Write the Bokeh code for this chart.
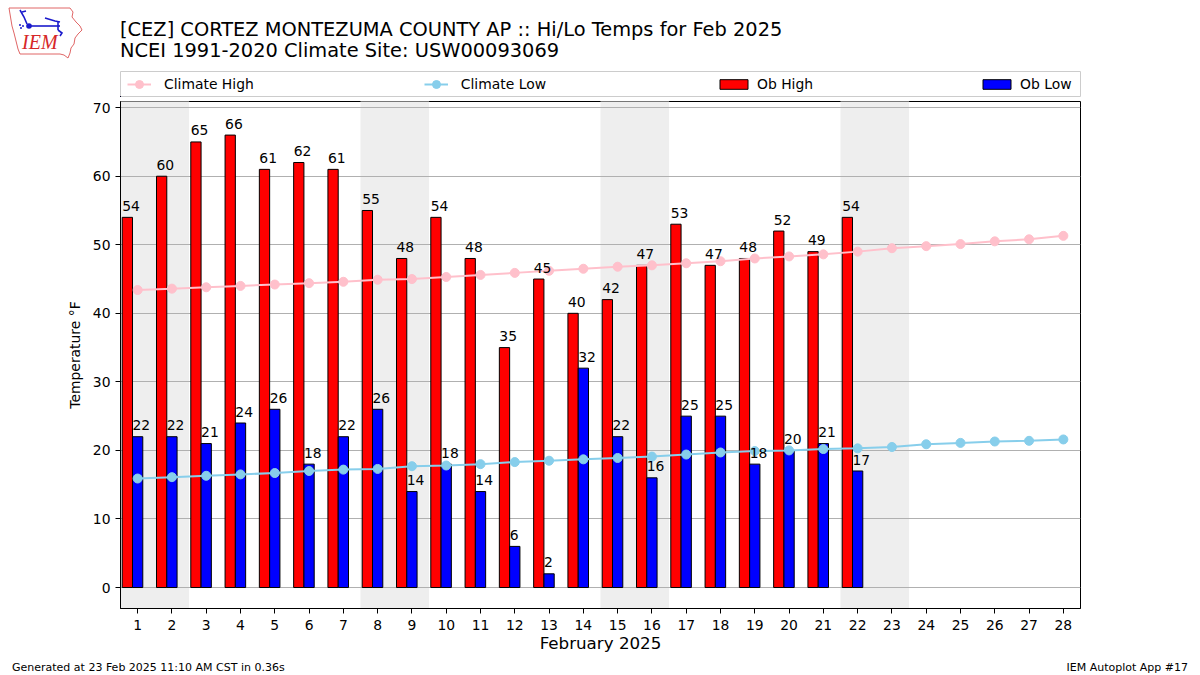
from bokeh.plotting import figure
from bokeh.models import (Range1d, FixedTicker, Legend, LegendItem, ColumnDataSource, Div)
from bokeh.layouts import column
from bokeh.transform import dodge
from bokeh.core.properties import value
from bokeh.embed import file_html
from bokeh.resources import INLINE

# ---------------- data ----------------
days = list(range(1, 29))
clim_high = [43.4, 43.6, 43.8, 44.0, 44.2, 44.4, 44.6, 44.9, 45.0, 45.3, 45.6, 45.9, 46.2, 46.5,
             46.8, 47.0, 47.3, 47.6, 48.0, 48.3, 48.6, 49.0, 49.5, 49.8, 50.1, 50.5, 50.8, 51.3]
clim_low = [15.9, 16.1, 16.3, 16.5, 16.7, 17.0, 17.2, 17.3, 17.7, 17.8, 18.0, 18.3, 18.5, 18.7,
            18.9, 19.1, 19.4, 19.7, 19.9, 20.0, 20.2, 20.3, 20.5, 20.9, 21.1, 21.3, 21.4, 21.6]
ob_days = list(range(1, 23))
ob_high = [54, 60, 65, 66, 61, 62, 61, 55, 48, 54, 48, 35, 45, 40, 42, 47, 53, 47, 48, 52, 49, 54]
ob_low = [22, 22, 21, 24, 26, 18, 22, 26, 14, 18, 14, 6, 2, 32, 22, 16, 25, 25, 18, 20, 21, 17]
weekend_start = [1, 8, 15, 22]
weekend_days = [2, 2, 2, 2]
y_ticks = [0, 10, 20, 30, 40, 50, 60, 70]

title1 = "[CEZ] CORTEZ MONTEZUMA COUNTY AP :: Hi/Lo Temps for Feb 2025"
title2 = "NCEI 1991-2020 Climate Site: USW00093069"
footer_left = "Generated at 23 Feb 2025 11:10 AM CST in 0.36s"
footer_right = "IEM Autoplot App #17"
logo_text = "IEM"

# ---------------- layout ----------------
FONT = "DejaVu Sans"
W = 1200
HEAD_H, LEG_H, FIG_H, FOOT_H = 66, 31, 563, 15
BL, BR, BT, BB = 120, 120, 4, 52
Y0, Y1 = -3.06, 70.9
LABEL_LIFT = 1.67   # data units between bar top and centre of its value label

p = figure(width=W, height=FIG_H, x_range=Range1d(0.5, 28.5), y_range=Range1d(Y0, Y1),
           output_backend="svg", toolbar_location=None, title=None, margin=0,
           min_border_left=BL, min_border_right=BR, min_border_top=BT, min_border_bottom=BB)
p.background_fill_color = "white"
p.border_fill_color = "white"
p.outline_line_color = "black"
p.outline_line_width = 1
p.outline_line_alpha = 1

# weekend shading
wk = ColumnDataSource(dict(
    left=[s - 0.5 for s in weekend_start],
    right=[s + n - 0.5 for s, n in zip(weekend_start, weekend_days)],
))
p.quad(left="left", right="right", bottom=Y0 - 10, top=Y1 + 10, source=wk,
       fill_color="#eeeeee", line_color=None, level="image")

src = ColumnDataSource(dict(day=ob_days, high=ob_high, low=ob_low,
                            high_s=[str(v) for v in ob_high], low_s=[str(v) for v in ob_low]))
csrc = ColumnDataSource(dict(day=days, ch=clim_high, cl=clim_low))

HIGH_BAR = dict(fill_color="red", line_color="black", line_width=1)
LOW_BAR = dict(fill_color="blue", line_color="black", line_width=1)
CH_LINE = dict(line_color="pink", line_width=2)
CH_DOT = dict(size=9, fill_color="pink", line_color="pink")
CL_LINE = dict(line_color="skyblue", line_width=2)
CL_DOT = dict(size=9, fill_color="skyblue", line_color="skyblue")

p.vbar(x=dodge("day", -0.3, range=p.x_range), top="high", bottom=0, width=0.3, source=src, **HIGH_BAR)
p.vbar(x="day", top="low", bottom=0, width=0.3, source=src, **LOW_BAR)
p.line("day", "ch", source=csrc, **CH_LINE)
p.scatter("day", "ch", source=csrc, **CH_DOT)
p.line("day", "cl", source=csrc, **CL_LINE)
p.scatter("day", "cl", source=csrc, **CL_DOT)

p.text(x=dodge("day", -0.45, range=p.x_range), y=dodge("high", LABEL_LIFT, range=p.y_range),
       text="high_s", source=src, text_align="left", text_baseline="middle",
       text_font=value(FONT), text_font_size="13.9px", text_color="black")
p.text(x=dodge("day", -0.15, range=p.x_range), y=dodge("low", LABEL_LIFT, range=p.y_range),
       text="low_s", source=src, text_align="left", text_baseline="middle",
       text_font=value(FONT), text_font_size="13.9px", text_color="black")

# axes / grid
p.xgrid.visible = False
p.ygrid.ticker = FixedTicker(ticks=y_ticks)
p.ygrid.grid_line_color = "#b0b0b0"
p.ygrid.grid_line_width = 1
p.xaxis.ticker = FixedTicker(ticks=days)
p.yaxis.ticker = FixedTicker(ticks=y_ticks)
for ax in (p.xaxis, p.yaxis):
    ax.axis_line_color = "black"
    ax.major_tick_line_color = "black"
    ax.major_tick_out = 5
    ax.major_tick_in = 0
    ax.minor_tick_line_color = None
    ax.major_label_text_font = FONT
    ax.major_label_text_font_size = "13.9px"
    ax.major_label_text_color = "black"
    ax.axis_label_text_font = FONT
    ax.axis_label_text_font_style = "normal"
    ax.axis_label_text_color = "black"
p.xaxis.major_label_standoff = 6
p.yaxis.major_label_standoff = 5
p.xaxis.axis_label = "February 2025"
p.xaxis.axis_label_text_font_size = "16.7px"
p.xaxis.axis_label_standoff = 0
p.yaxis.axis_label = "Temperature °F"
p.yaxis.axis_label_text_font_size = "13.9px"
p.yaxis.axis_label_standoff = 7

# ---------------- legend strip (its own small figure; frame = legend box) ----------------
lg = figure(width=W, height=LEG_H, x_range=Range1d(1000, 1001), y_range=Range1d(1000, 1001),
            output_backend="svg", toolbar_location=None, title=None, margin=0,
            x_axis_type=None, y_axis_type=None,
            min_border_left=120, min_border_right=120, min_border_top=5, min_border_bottom=1)
lg.outline_line_color = "#cccccc"
lg.outline_line_width = 1
lg.background_fill_color = "white"
lg.border_fill_color = "white"
r_chl = lg.line("day", "ch", source=csrc, **CH_LINE)
r_chd = lg.scatter("day", "ch", source=csrc, **CH_DOT)
r_cll = lg.line("day", "cl", source=csrc, **CL_LINE)
r_cld = lg.scatter("day", "cl", source=csrc, **CL_DOT)
r_hb = lg.vbar(x="day", top="high", bottom=0, width=0.3, source=src, **HIGH_BAR)
r_lb = lg.vbar(x="day", top="low", bottom=0, width=0.3, source=src, **LOW_BAR)

common = dict(orientation="horizontal", margin=0, padding=0,
              label_text_font=FONT, label_text_font_size="13.9px", label_text_color="black",
              border_line_color=None, background_fill_alpha=0)
leg_a = Legend(items=[LegendItem(label="Climate High", renderers=[r_chl, r_chd]),
                      LegendItem(label="Climate Low", renderers=[r_cll, r_cld])],
               location=(7, 2), spacing=170, glyph_width=24, glyph_height=20,
               label_standoff=13, label_height=20, **common)
leg_b = Legend(items=[LegendItem(label="Ob High", renderers=[r_hb]),
                      LegendItem(label="Ob Low", renderers=[r_lb])],
               location=(596, 4), spacing=166, glyph_width=35, glyph_height=12,
               label_standoff=6, label_height=16, **common)
lg.add_layout(leg_a, "center")
lg.add_layout(leg_b, "center")

# header (logo + two-line title) and footer as HTML text
logo_svg = (
    '<svg style="position:absolute;left:0px;top:0px;" width="90" height="62">'
    '<path d="M9,8 L70,8 L73,12 L72,17 L76,22 L80,26 L82,30 L78,34 L75,38 L74,44 L71,48 '
    'L70,53 L68,58 L64,55 L60,54 L20,54 L18,49 L16,41 L14,33 L12,26 L11,20 L10,14 Z" '
    'fill="none" stroke="#e06666" stroke-width="1"/>'
    '<g stroke="#1a1acc" stroke-width="1.6" fill="none">'
    '<path d="M28,26 L60,26"/><path d="M20,10 L24,17 L27,24"/><path d="M22,12 L26,11"/>'
    '<path d="M45,18 L55,21 L60,22"/><path d="M58,22 L58,30"/><path d="M58,30 L62,33 L60,36"/>'
    '</g>'
    '<circle cx="29" cy="26" r="2.8" fill="#1a1acc"/>'
    '<circle cx="20" cy="25" r="1" fill="#1a1acc"/><circle cx="23" cy="26" r="1" fill="#1a1acc"/>'
    '<circle cx="21" cy="28" r="1" fill="#1a1acc"/>'
    '</svg>'
)
header_html = (
    f'<div style="position:relative;width:{W}px;height:{HEAD_H}px;">'
    f'{logo_svg}'
    f'<div style="position:absolute;left:22px;top:32px;font-family:\'Liberation Serif\';'
    f'font-style:italic;font-size:20px;line-height:20px;color:#d62728;">{logo_text}</div>'
    f'<div style="position:absolute;left:120px;top:19px;font-family:\'DejaVu Sans\';'
    f'font-size:19.4px;line-height:21px;color:black;white-space:nowrap;">'
    f'{title1}<br>{title2}</div></div>'
)
footer_html = (
    f'<div style="position:relative;width:{W}px;height:{FOOT_H}px;font-family:\'DejaVu Sans\';'
    f'font-size:11px;line-height:15px;color:black;white-space:nowrap;">'
    f'<span style="position:absolute;left:12px;top:0px;">{footer_left}</span>'
    f'<span style="position:absolute;right:12px;top:0px;">{footer_right}</span></div>'
)
header = Div(text=header_html, width=W, height=HEAD_H, margin=0)
footer = Div(text=footer_html, width=W, height=FOOT_H, margin=0)

layout = column(header, lg, p, footer, spacing=0, margin=0)
open("out.html", "w").write(file_html(layout, INLINE))
